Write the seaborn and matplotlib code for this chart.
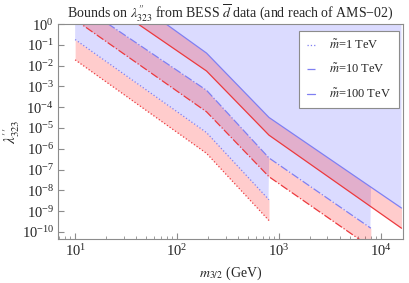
import numpy as np
import pandas as pd
import matplotlib
matplotlib.use("Agg")
import matplotlib.pyplot as plt
from matplotlib.lines import Line2D
import seaborn as sns

# gravitino mass (GeV) sampled at the kinks of each curve
m_1tev = [10, 195, 800]
m_10tev = [10, 195, 800, 8000]
m_100tev = [10, 195, 800, 16000]

# BESS bounds (red) and AMS-02 reach (blue)
red_1tev = [1.9e-2, 6.0e-7, 3.5e-10]
blue_1tev = [1.8e-1, 6.0e-6, 3.5e-9]
red_10tev = [1.6, 6.0e-5, 4.5e-8, 1.8e-11]
blue_10tev = [12, 6.5e-4, 3.6e-7, 1.5e-10]
red_100tev = [120, 5.5e-3, 4.5e-6, 1.5e-10]
blue_100tev = [1400, 4.0e-2, 3.2e-5, 1.4e-9]

labels = [r"$\tilde{m}$=1 TeV", r"$\tilde{m}$=10 TeV", r"$\tilde{m}$=100 TeV"]
styles = [":", "-.", "-"]

sns.set_style("ticks")
plt.rcParams["font.family"] = ["Liberation Serif", "DejaVu Serif"]
plt.rcParams["mathtext.fontset"] = "stix"

red_line = "#ec3a3e"
blue_line = "#7f7ff2"
blue_fill = (0, 0, 1, 0.14)
red_fill = (1, 0, 0, 0.2)

fig = plt.figure(figsize=(4.09, 2.83), dpi=100)
ax = fig.add_axes([0.142, 0.155, 0.843, 0.76])

sets = [(m_1tev, red_1tev, blue_1tev), (m_10tev, red_10tev, blue_10tev),
        (m_100tev, red_100tev, blue_100tev)]


def loginterp(xg, xs, ys):
    return 10 ** np.interp(np.log10(xg), np.log10(xs), np.log10(ys))


# light blue: everything above the lowest available AMS-02 curve
grid = np.logspace(1, np.log10(m_100tev[-1]), 600)
env = np.full_like(grid, np.inf)
for m, r, b in sets:
    ok = grid <= m[-1] * 1.0001
    env[ok] = np.minimum(env[ok], loginterp(grid[ok], m, b))
ax.fill_between(grid, env, 1e4, color=blue_fill, linewidth=0)

# pink band between bound and reach
for m, r, b in sets:
    g = np.logspace(np.log10(m[0]), np.log10(m[-1]), 300)
    ax.fill_between(g, loginterp(g, m, r), loginterp(g, m, b),
                    color=red_fill, linewidth=0)

for (m, r, b), ls in zip(sets, styles):
    df = pd.DataFrame({"m": m, "red": r, "blue": b})
    sns.lineplot(data=df, x="m", y="red", ax=ax, color=red_line, lw=0.9,
                 linestyle=ls, estimator=None, sort=False)
    sns.lineplot(data=df, x="m", y="blue", ax=ax, color=blue_line, lw=0.9,
                 linestyle=ls, estimator=None, sort=False)

ax.set_xscale("log")
ax.set_yscale("log")
ax.set_xlim(6.8, 16500)
ax.set_ylim(10 ** -10.35, 1)
ax.set_yticks([10.0 ** k for k in range(0, -11, -1)])
ax.set_xticks([10, 100, 1000, 10000])

for s in ax.spines.values():
    s.set_color("#8c8c8c")
    s.set_linewidth(0.8)
ax.tick_params(which="both", direction="in", color="#8c8c8c", labelsize=10.5,
               pad=3)
ax.tick_params(which="major", length=4)
ax.tick_params(which="minor", length=2)

ax.set_xlabel(r"$m_{3/2}$ (GeV)", fontsize=10, labelpad=4)
ax.set_ylabel(r"$\lambda^{\prime\prime}_{323}$", fontsize=11)
ax.yaxis.set_label_coords(-0.105, 0.5)
ax.set_title(r"Bounds on $\lambda^{\prime\prime}_{323}$ from BESS $\overline{d}$ data (and reach of AMS−02)",
             fontsize=10, pad=5)

handles = [Line2D([], [], color=blue_line, lw=0.9, linestyle=ls) for ls in styles]
leg = ax.legend(handles, labels, loc="upper right", bbox_to_anchor=(0.988, 0.967),
                borderaxespad=0, fontsize=9, frameon=True, fancybox=False,
                framealpha=1, edgecolor="#8c8c8c", handlelength=0.7,
                handletextpad=1.1, labelspacing=0.9, borderpad=0.6)
leg.get_frame().set_linewidth(0.8)

fig.savefig("out.png", dpi=100)
